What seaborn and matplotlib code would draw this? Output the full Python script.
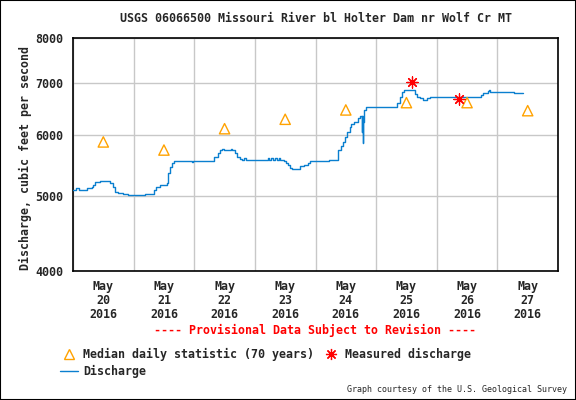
import pandas as pd
import matplotlib
matplotlib.use("Agg")
import matplotlib.pyplot as plt
import matplotlib.dates as mdates
from matplotlib.lines import Line2D
from matplotlib.patches import Rectangle
import seaborn as sns

# Discharge (cfs): hours after 2016-05-20 00:00 and value
hours = [0, 1.3, 2.2, 5.5, 7.5, 8.0, 8.8, 10.5, 14.8, 15.8, 16.7, 18.0, 19.8, 21.9,
         28.6, 31.9, 33.0, 34.5, 37.2, 37.6, 38.5, 39.2, 40.1, 47.0, 47.4, 55.9,
         57.4, 58.0, 59.0, 59.6, 62.5, 63.0, 64.3, 65.0, 66.0, 66.9, 67.5, 68.5,
         77.0, 77.6, 78.5, 79.1, 80.0, 80.6, 81.5, 82.1, 83.4, 84.4, 85.1, 86.0,
         86.7, 89.7, 91.3, 92.9, 94.0, 101.2, 104.8, 105.1, 106.1, 106.9, 107.8,
         108.5, 109.5, 110.1, 111.1, 112.2, 112.7, 113.5, 114.3, 114.5, 114.7,
         114.85, 115.2, 116.0, 116.8, 117.7, 128.3, 129.3, 130.2, 131.0, 135.5,
         136.2, 137.2, 138.6, 140.1, 141.4, 161.5, 162.5, 164.1, 164.5, 164.9,
         169.2, 174.4, 178.1]
discharge = [5086, 5110, 5086, 5112, 5139, 5162, 5209, 5229, 5189, 5136, 5060, 5045,
             5021, 5010, 5025, 5086, 5139, 5162, 5200, 5345, 5452, 5509, 5546, 5530,
             5546, 5610, 5677, 5734, 5750, 5734, 5750, 5734, 5677, 5620, 5579, 5558,
             5591, 5558, 5591, 5558, 5591, 5558, 5591, 5558, 5591, 5558, 5549, 5519,
             5481, 5427, 5411, 5465, 5481, 5519, 5541, 5562, 5645, 5734, 5807, 5877,
             5965, 6044, 6145, 6195, 6227, 6238, 6312, 6350, 6054, 6350, 5849, 6238,
             6457, 6509, 6521, 6505, 6587, 6716, 6817, 6860, 6765, 6716, 6685, 6651,
             6685, 6705, 6750, 6785, 6831, 6852, 6817, 6805, 6800, 6795]

# Median daily statistic (70 years), plotted at noon of each day
median_hours = [12, 36, 60, 84, 108, 132, 156, 180]
median_vals = [5870, 5730, 6106, 6280, 6457, 6599, 6599, 6443]

# Measured discharge
meas_hours = [134.4, 152.7]
meas_vals = [7010, 6670]

start = pd.Timestamp("2016-05-20")
df = pd.DataFrame({"time": start + pd.to_timedelta(hours, unit="h"), "cfs": discharge})
med = pd.DataFrame({"time": start + pd.to_timedelta(median_hours, unit="h"), "cfs": median_vals})
meas = pd.DataFrame({"time": start + pd.to_timedelta(meas_hours, unit="h"), "cfs": meas_vals})

sns.set_style("white")
plt.rcParams["font.family"] = ["DejaVu Sans Mono"]
plt.rcParams["font.weight"] = "bold"

blue = "#0a7fcf"
orange = "#ffa200"
fs = 8.4

fig = plt.figure(figsize=(5.76, 4.0), dpi=100)
ax = fig.add_axes([73 / 576, 1 - 270.7 / 400, 485 / 576, 232.7 / 400])

sns.lineplot(data=df, x="time", y="cfs", ax=ax, color=blue, linewidth=1.0,
             drawstyle="steps-post", zorder=3)
sns.scatterplot(data=med, x="time", y="cfs", ax=ax, marker="^", s=55,
                facecolor="none", edgecolor=orange, linewidth=1.0, zorder=4)
sns.scatterplot(data=meas, x="time", y="cfs", ax=ax, marker=(8, 2, 0), s=65,
                color="red", linewidth=0.9, zorder=5)

ax.set_yscale("log")
ax.set_ylim(4000, 8000)
ax.set_yticks([4000, 5000, 6000, 7000, 8000])
ax.set_yticklabels(["4000", "5000", "6000", "7000", "8000"])
ax.yaxis.set_minor_locator(matplotlib.ticker.NullLocator())
ax.set_xlim(start, start + pd.Timedelta(days=8))

ax.xaxis.set_major_locator(mdates.DayLocator())
ax.xaxis.set_major_formatter(matplotlib.ticker.NullFormatter())
ax.xaxis.set_minor_locator(mdates.HourLocator(byhour=12))
ax.xaxis.set_minor_formatter(mdates.DateFormatter("%b\n%d\n%Y"))
ax.tick_params(axis="x", which="both", length=0)
ax.tick_params(axis="x", which="minor", pad=7, labelsize=fs)
ax.tick_params(axis="y", length=0, pad=7, labelsize=fs)
for lab in ax.get_xticklabels(minor=True):
    lab.set_linespacing(1.1)

ax.grid(True, which="major", color="#c8c8c8", linewidth=1)
ax.set_xlabel("")
ax.set_ylabel("")
for s in ax.spines.values():
    s.set_color("black")
    s.set_linewidth(1.2)

fig.text(315.5 / 576, 1 - 18 / 400, "USGS 06066500 Missouri River bl Holter Dam nr Wolf Cr MT",
         ha="center", va="center", fontsize=fs)
fig.text(25 / 576, 1 - 158 / 400, "Discharge, cubic feet per second", rotation=90,
         ha="center", va="center", fontsize=fs)
fig.text(315 / 576, 1 - 330 / 400, "---- Provisional Data Subject to Revision ----",
         ha="center", va="center", fontsize=fs, color="red")
fig.text(567 / 576, 1 - 390 / 400, "Graph courtesy of the U.S. Geological Survey",
         ha="right", va="center", fontsize=6, fontweight="normal")

handles = [
    Line2D([], [], marker="^", ls="none", mfc="none", mec=orange, ms=7, mew=1.0),
    Line2D([], [], color=blue, lw=1.0),
    Line2D([], [], marker=(8, 2, 0), ls="none", color="red", ms=8, mew=0.9),
]
labels = ["Median daily statistic (70 years)", "Discharge", "Measured discharge"]
fig.legend(handles, labels, ncol=2, loc="upper left", bbox_to_anchor=(60 / 576, 1 - 348 / 400),
           frameon=False, prop={"size": fs, "weight": "bold", "family": "DejaVu Sans Mono"},
           handlelength=1.5, handletextpad=0.45, columnspacing=0.7, labelspacing=0.35,
           borderpad=0, borderaxespad=0)

fig.patches.append(Rectangle((0, 0), 1, 1, transform=fig.transFigure, fill=False,
                             edgecolor="black", linewidth=1.5))

plt.savefig("out.png", dpi=100)
plt.close()
